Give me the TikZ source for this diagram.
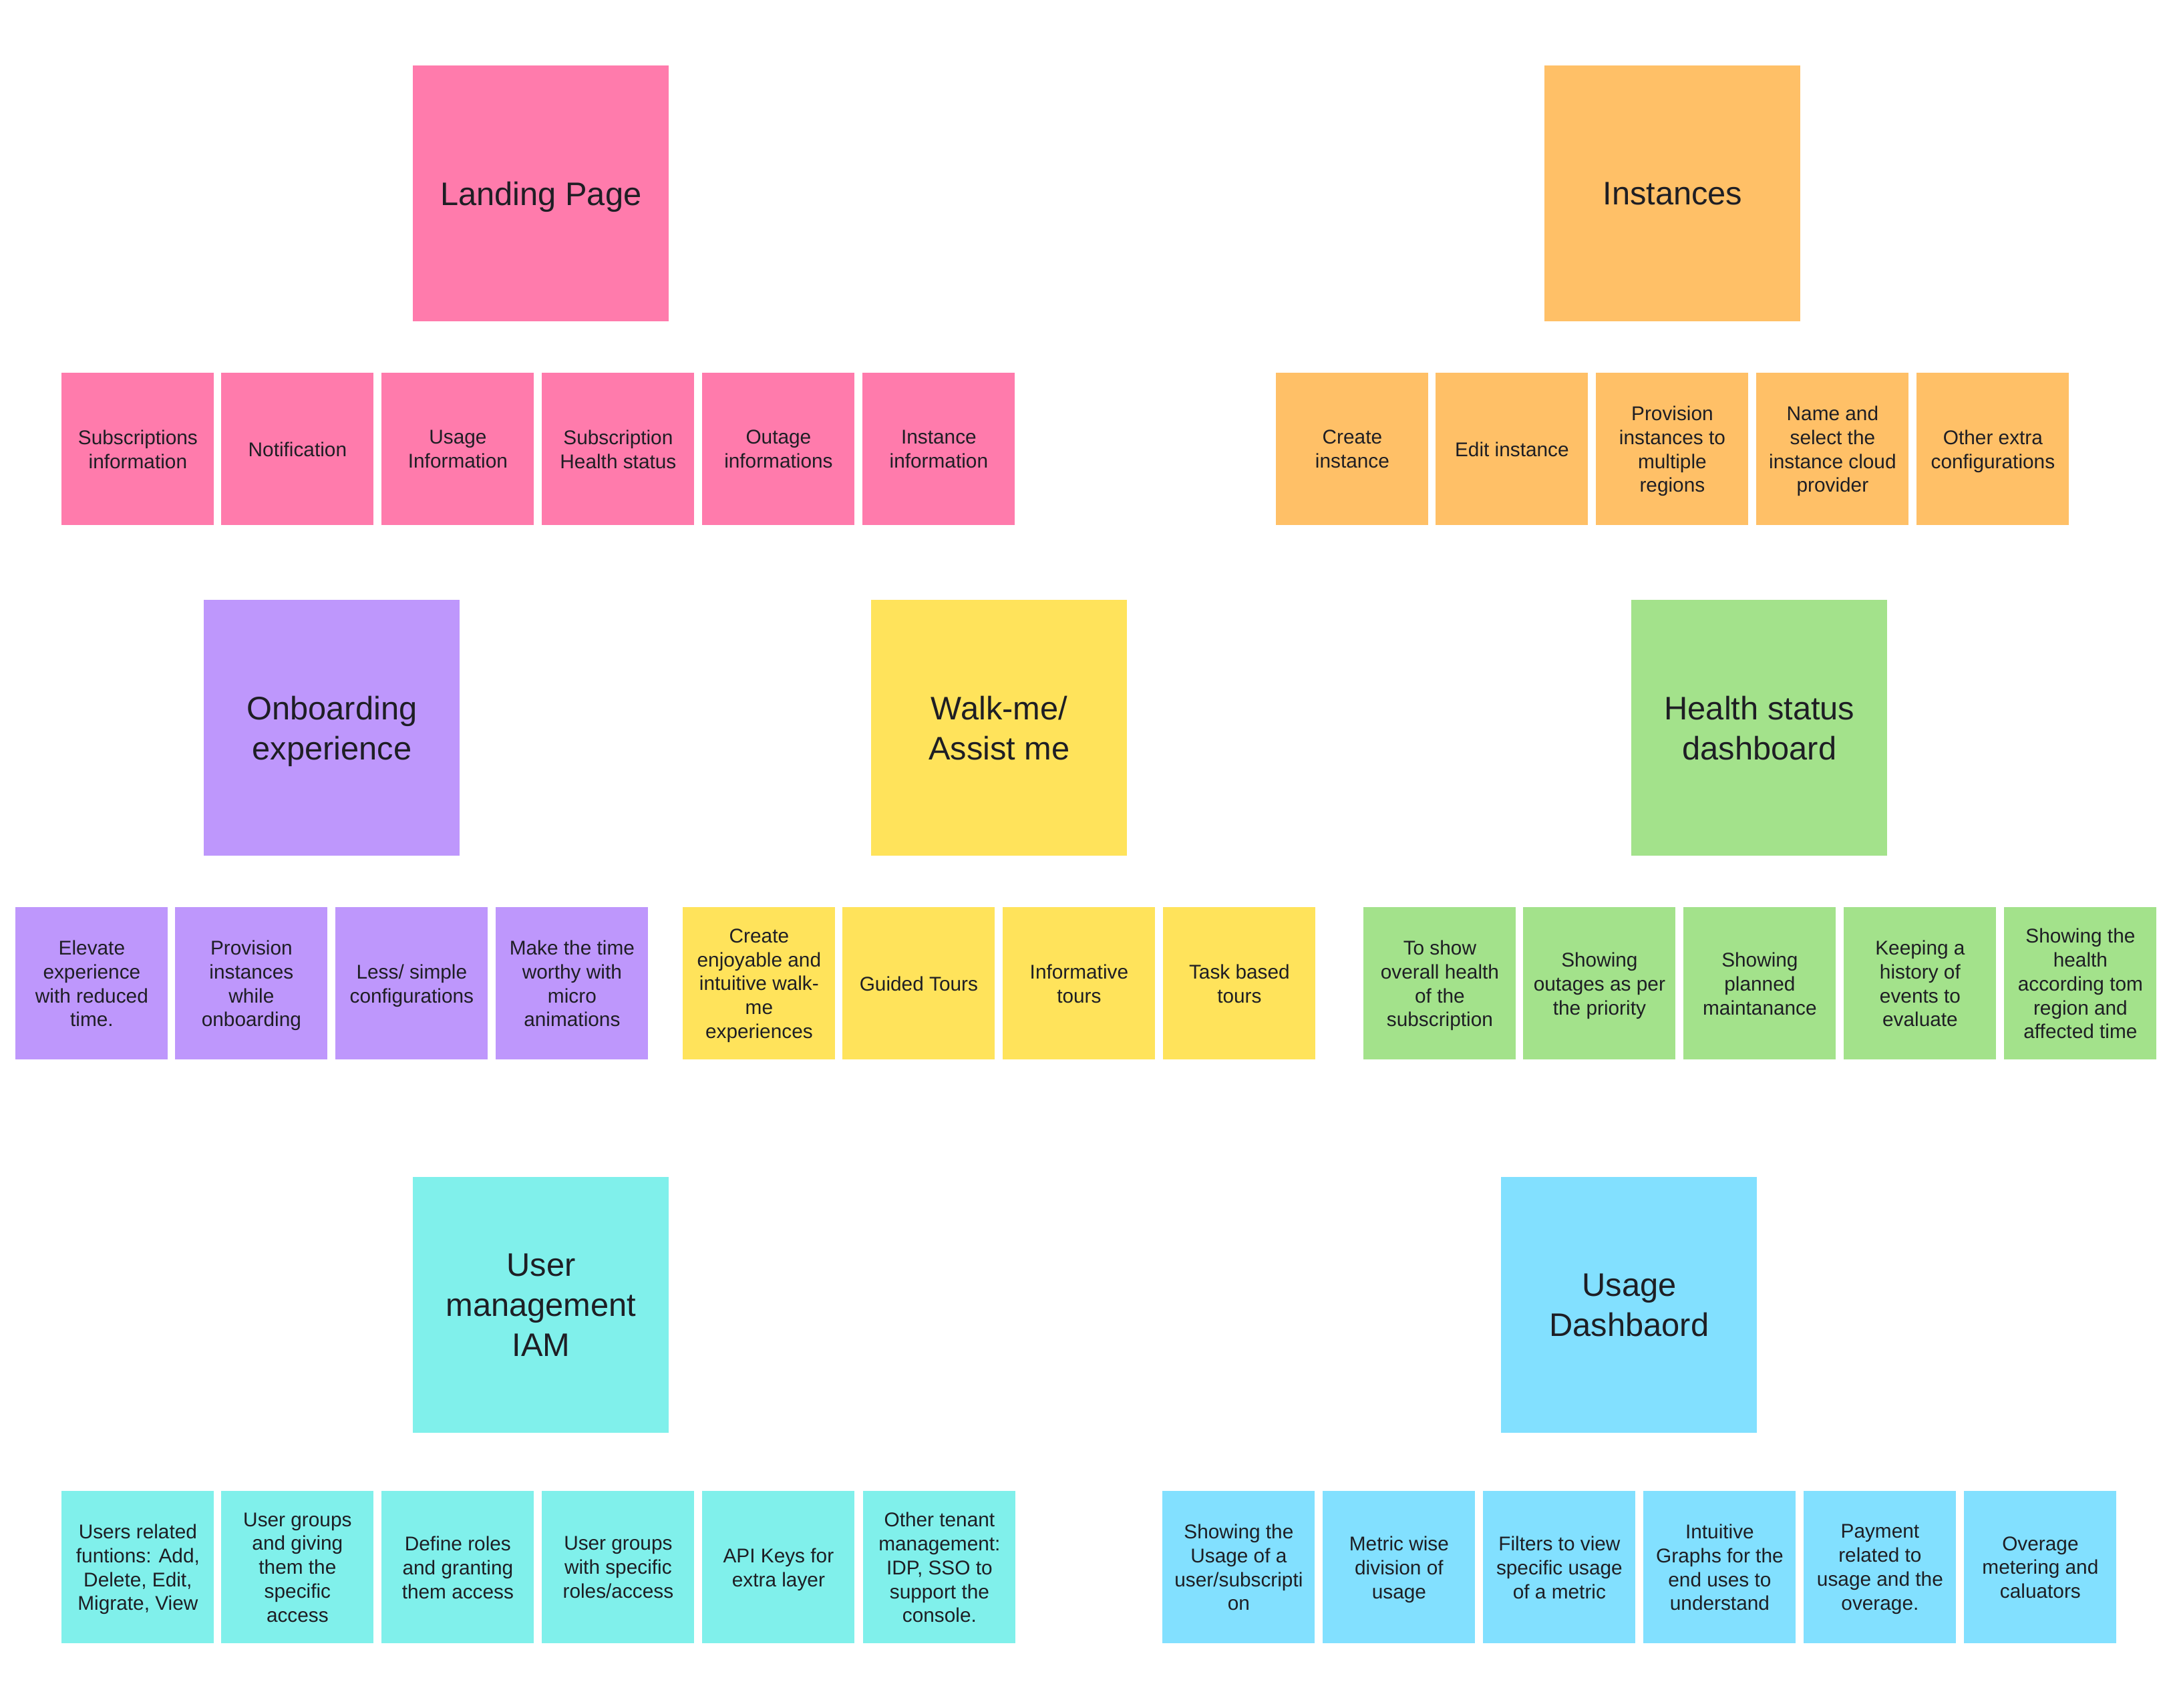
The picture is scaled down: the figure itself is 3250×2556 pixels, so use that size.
\documentclass[tikz,border=0pt]{standalone}
\usepackage{fontspec}
\setmainfont{Liberation Sans}
\definecolor{cpink}{HTML}{FF7BAC}
\definecolor{corange}{HTML}{FFC067}
\definecolor{cpurple}{HTML}{BE97FC}
\definecolor{cyellow}{HTML}{FFE35B}
\definecolor{cgreen}{HTML}{A3E28B}
\definecolor{ccyan}{HTML}{80F0EB}
\definecolor{cblue}{HTML}{82E0FF}
\definecolor{ctext}{HTML}{1E1E24}
\tikzset{
  sticky/.style={draw=none, inner sep=0pt, anchor=north west, align=center, text=ctext,
    text depth=0pt},
  smallsticky/.style={sticky, minimum width=114pt, minimum height=114pt,
    font=\fontsize{14.9pt}{17.9pt}\selectfont},
  bigsticky/.style={sticky, minimum width=191.5pt, minimum height=191.5pt,
    font=\fontsize{24.4pt}{30pt}\selectfont},
}
\begin{document}
\begin{tikzpicture}[x=0.5pt, y=-0.5pt]
\useasboundingbox[fill=white] (0,0) rectangle (3250,2556);
% Landing page
\node[bigsticky, fill=cpink] (lp) at (618,98) {Landing Page};
\node[smallsticky, fill=cpink] (lp1) at (92,558) {Subscriptions\\information};
\node[smallsticky, fill=cpink] (lp2) at (331,558) {Notification};
\node[smallsticky, fill=cpink] (lp3) at (571,558) {Usage\\Information};
\node[smallsticky, fill=cpink] (lp4) at (811,558) {Subscription\\Health status};
\node[smallsticky, fill=cpink] (lp5) at (1051,558) {Outage\\informations};
\node[smallsticky, fill=cpink] (lp6) at (1291,558) {Instance\\information};
% Instances
\node[bigsticky, fill=corange] (in) at (2312,98) {Instances};
\node[smallsticky, fill=corange] (in1) at (1910,558) {Create\\instance};
\node[smallsticky, fill=corange] (in2) at (2149,558) {Edit instance};
\node[smallsticky, fill=corange] (in3) at (2389,558) {Provision\\instances to\\multiple\\regions};
\node[smallsticky, fill=corange] (in4) at (2629,558) {Name and\\select the\\instance cloud\\provider};
\node[smallsticky, fill=corange] (in5) at (2869,558) {Other extra\\configurations};
% Onboarding
\node[bigsticky, fill=cpurple] (ob) at (305,898) {Onboarding\\experience};
\node[smallsticky, fill=cpurple] (ob1) at (23,1358) {Elevate\\experience\\with reduced\\time.};
\node[smallsticky, fill=cpurple] (ob2) at (262,1358) {Provision\\instances\\while\\onboarding};
\node[smallsticky, fill=cpurple] (ob3) at (502,1358) {Less/ simple\\configurations};
\node[smallsticky, fill=cpurple] (ob4) at (742,1358) {Make the time\\worthy with\\micro\\animations};
% Walk-me
\node[bigsticky, fill=cyellow] (wm) at (1304,898) {Walk-me/\\Assist me};
\node[smallsticky, fill=cyellow] (wm1) at (1022,1358) {Create\\enjoyable and\\intuitive walk-\\me\\experiences};
\node[smallsticky, fill=cyellow] (wm2) at (1261,1358) {Guided Tours};
\node[smallsticky, fill=cyellow] (wm3) at (1501,1358) {Informative\\tours};
\node[smallsticky, fill=cyellow] (wm4) at (1741,1358) {Task based\\tours};
% Health status
\node[bigsticky, fill=cgreen] (hs) at (2442,898) {Health status\\dashboard};
\node[smallsticky, fill=cgreen] (hs1) at (2041,1358) {To show\\overall health\\of the\\subscription};
\node[smallsticky, fill=cgreen] (hs2) at (2280,1358) {Showing\\outages as per\\the priority};
\node[smallsticky, fill=cgreen] (hs3) at (2520,1358) {Showing\\planned\\maintanance};
\node[smallsticky, fill=cgreen] (hs4) at (2760,1358) {Keeping a\\history of\\events to\\evaluate};
\node[smallsticky, fill=cgreen] (hs5) at (3000,1358) {Showing the\\health\\according tom\\region and\\affected time};
% User management
\node[bigsticky, fill=ccyan] (um) at (618,1762) {User\\management\\IAM};
\node[smallsticky, fill=ccyan] (um1) at (92,2232) {Users related\\funtions: Add,\\Delete, Edit,\\Migrate, View};
\node[smallsticky, fill=ccyan] (um2) at (331,2232) {User groups\\and giving\\them the\\specific\\access};
\node[smallsticky, fill=ccyan] (um3) at (571,2232) {Define roles\\and granting\\them access};
\node[smallsticky, fill=ccyan] (um4) at (811,2232) {User groups\\with specific\\roles/access};
\node[smallsticky, fill=ccyan] (um5) at (1051,2232) {API Keys for\\extra layer};
\node[smallsticky, fill=ccyan] (um6) at (1292,2232) {Other tenant\\management:\\IDP, SSO to\\support the\\console.};
% Usage dashboard
\node[bigsticky, fill=cblue] (ud) at (2247,1762) {Usage\\Dashbaord};
\node[smallsticky, fill=cblue] (ud1) at (1740,2232) {Showing the\\Usage of a\\user/subscripti\\on};
\node[smallsticky, fill=cblue] (ud2) at (1980,2232) {Metric wise\\division of\\usage};
\node[smallsticky, fill=cblue] (ud3) at (2220,2232) {Filters to view\\specific usage\\of a metric};
\node[smallsticky, fill=cblue] (ud4) at (2460,2232) {Intuitive\\Graphs for the\\end uses to\\understand};
\node[smallsticky, fill=cblue] (ud5) at (2700,2232) {Payment\\related to\\usage and the\\overage.};
\node[smallsticky, fill=cblue] (ud6) at (2940,2232) {Overage\\metering and\\caluators};
\end{tikzpicture}
\end{document}
